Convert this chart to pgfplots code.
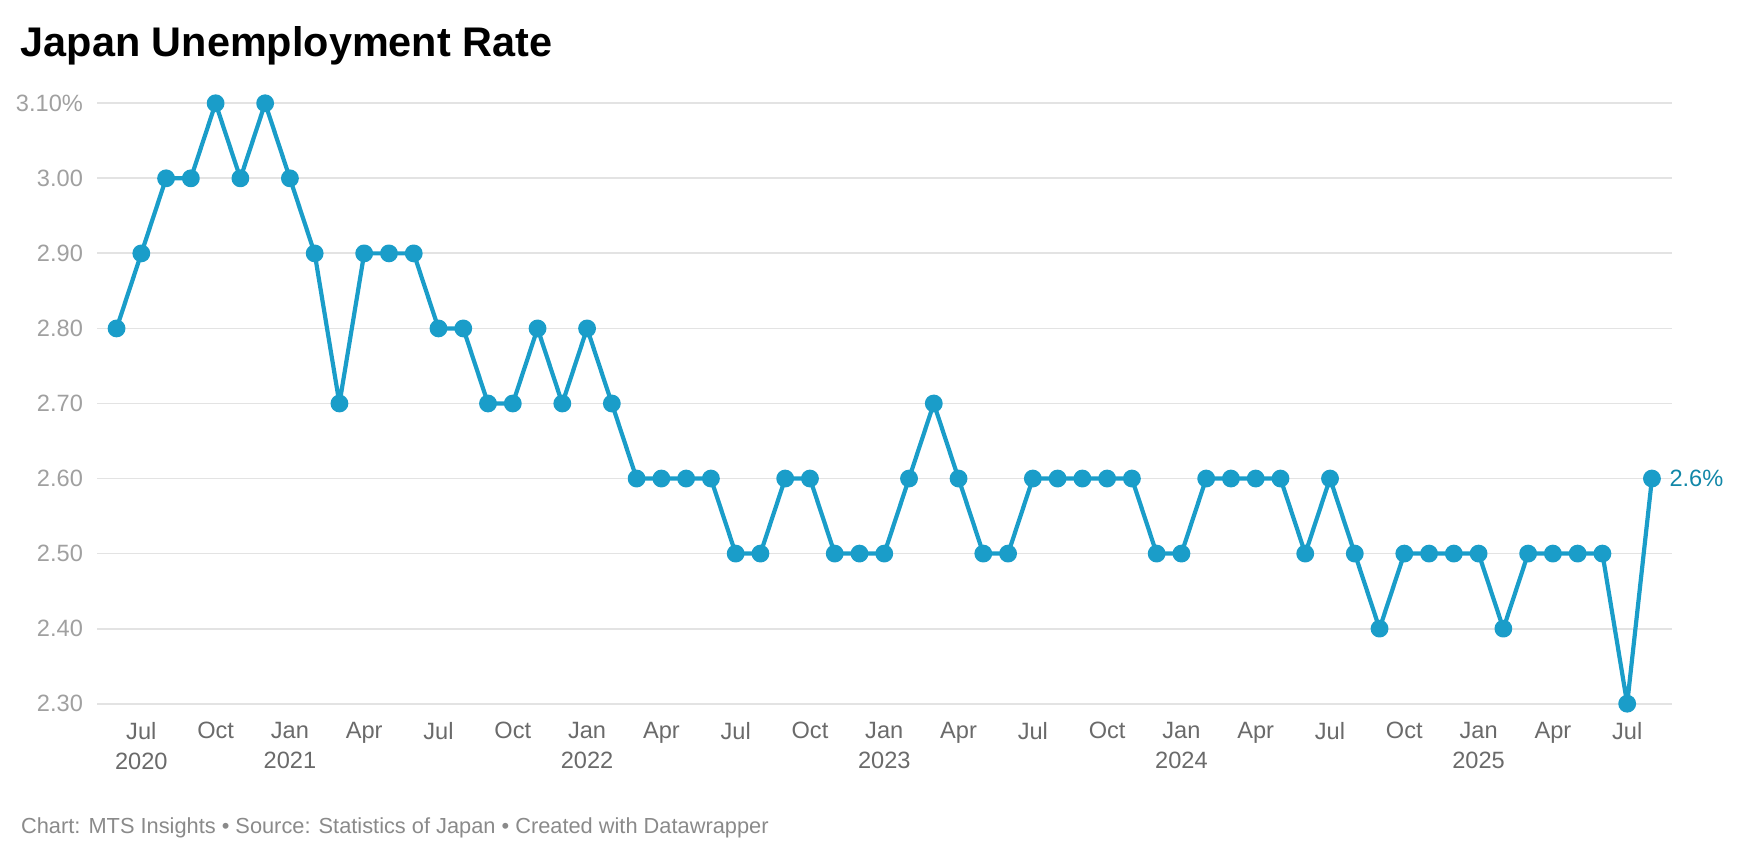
\documentclass[border=0pt]{standalone}
\usepackage{pgfplots}
\pgfplotsset{compat=1.18}
\usepackage{fontspec}
\setmainfont{Liberation Sans}

\definecolor{linec}{HTML}{1A9DC9}
\definecolor{labc}{HTML}{1287A8}
\definecolor{ytickc}{HTML}{A0A0A0}
\definecolor{xtickc}{HTML}{6A6A6A}
\definecolor{footc}{HTML}{8A8A8A}
\definecolor{gridc}{HTML}{E3E3E3}

\begin{document}
\begin{tikzpicture}
\path[use as bounding box] (0,0) rectangle (870pt,430pt);

% title and footer
\node[anchor=base west, inner sep=0pt, font=\bfseries\fontsize{20.7}{23}\selectfont]
  at (10.2pt,401.5pt) {Japan Unemployment Rate};
\node[anchor=base west, inner sep=0pt, text=footc, font=\fontsize{10.9}{13}\selectfont]
  at (10.35pt,13pt) {Chart: MTS Insights • Source: Statistics of Japan • Created with Datawrapper};

\begin{axis}[
  at={(48.5pt,78.15pt)}, anchor=south west,
  width=787.5pt, height=300.2pt, scale only axis,
  xmin=-0.79, xmax=62.81,
  ymin=2.3, ymax=3.1,
  axis line style={draw=none},
  major tick length=0pt,
  clip=false,
  ymajorgrids,
  grid style={gridc, line width=0.9pt},
  ytick={2.3,2.4,...,3.1},
  yticklabels={2.30,2.40,2.50,2.60,2.70,2.80,2.90,3.00,3.10\%},
  yticklabel style={anchor=east, inner sep=0pt, xshift=-6.85pt, text=ytickc,
    font=\fontsize{11.8}{14}\selectfont},
  xtick={1,4,...,61},
  xticklabels={{Jul\\2020},Oct,{Jan\\2021},Apr,Jul,Oct,{Jan\\2022},Apr,Jul,Oct,
    {Jan\\2023},Apr,Jul,Oct,{Jan\\2024},Apr,Jul,Oct,{Jan\\2025},Apr,Jul},
  xticklabel style={anchor=north, align=center, inner sep=0pt, yshift=-9pt, text=xtickc,
    font=\fontsize{11.8}{15}\selectfont},
]
\addplot[color=linec, line width=2.1pt, line join=round, mark=*, mark size=3.4pt,
  mark options={fill=linec, draw=none}] coordinates {
  (0,2.8) (1,2.9) (2,3.0) (3,3.0) (4,3.1) (5,3.0) (6,3.1) (7,3.0) (8,2.9) (9,2.7)
  (10,2.9) (11,2.9) (12,2.9) (13,2.8) (14,2.8) (15,2.7) (16,2.7) (17,2.8) (18,2.7) (19,2.8)
  (20,2.7) (21,2.6) (22,2.6) (23,2.6) (24,2.6) (25,2.5) (26,2.5) (27,2.6) (28,2.6) (29,2.5)
  (30,2.5) (31,2.5) (32,2.6) (33,2.7) (34,2.6) (35,2.5) (36,2.5) (37,2.6) (38,2.6) (39,2.6)
  (40,2.6) (41,2.6) (42,2.5) (43,2.5) (44,2.6) (45,2.6) (46,2.6) (47,2.6) (48,2.5) (49,2.6)
  (50,2.5) (51,2.4) (52,2.5) (53,2.5) (54,2.5) (55,2.5) (56,2.4) (57,2.5) (58,2.5) (59,2.5)
  (60,2.5) (61,2.3) (62,2.6)
};
\node[anchor=west, inner sep=0pt, xshift=8.6pt, text=labc, font=\fontsize{11.8}{14}\selectfont]
  at (axis cs:62,2.6) {2.6\%};
\end{axis}
\end{tikzpicture}
\end{document}
